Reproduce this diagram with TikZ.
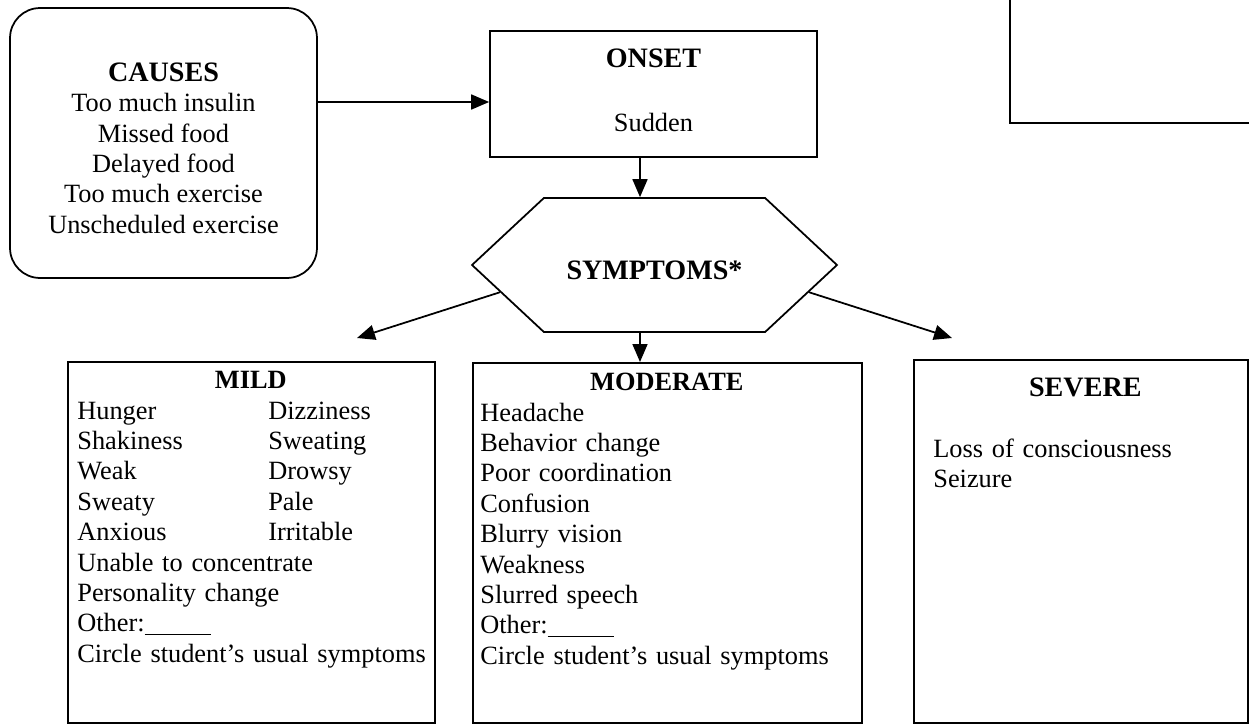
\documentclass[tikz,border=0pt]{standalone}
\usepackage{fontspec}
\setmainfont{Liberation Serif}
\usepackage{tikz}
\usetikzlibrary{shapes.symbols,arrows.meta,positioning}
\newcommand{\boxtitle}[1]{{\fontsize{16}{17.3}\selectfont\bfseries #1}}

\begin{document}
\begin{tikzpicture}[
    x=0.02cm,y=-0.02cm,
    box/.style={draw,line width=1pt,inner sep=0pt,font=\fontsize{15}{17.3}\selectfont},
    cause/.style={box,rounded corners=0.6cm,minimum width=6.14cm,minimum height=5.4cm,align=center},
    onsetbox/.style={box,minimum width=6.54cm,minimum height=2.52cm,align=center},
    hexa/.style={box,signal,signal to=west and east,signal pointer angle=86,minimum width=7.3cm,minimum height=2.68cm},
    level/.style={box,anchor=north west,minimum height=7.22cm},
    list/.style={anchor=north west,inner sep=0pt,align=left,font=\fontsize{15}{17.3}\selectfont},
    arrow/.style={-{Triangle[length=0.36cm,width=0.3cm]},line width=1pt}
  ]
  \useasboundingbox (0,0) rectangle (1249,724);
  \node[cause] (causes) at (163.5,143) {\rule{0pt}{0.58cm}\boxtitle{CAUSES}\\Too much insulin\\Missed food\\Delayed food\\Too much exercise\\Unscheduled exercise};
  \node[onsetbox] (onset) at (653.5,94) {\boxtitle{ONSET}\\[0.67cm]Sudden\rule[-0.14cm]{0pt}{0pt}};
  \node[hexa] (symp) at (654.5,265) {\rule{0pt}{0.57cm}\boxtitle{SYMPTOMS*}};
  \node[box,anchor=south west,minimum width=6cm,minimum height=4cm] (blank) at (1009,124) {};
  \node[level,minimum width=7.34cm] (mild) at (67,361) {};
  \node[level,minimum width=7.78cm,minimum height=7.2cm] (moderate) at (472,362) {};
  \node[level,minimum width=6.68cm,minimum height=7.26cm] (severe) at (913,359) {};
  \node[list,text width=7.2cm] (mildtxt) at ([shift={(10,6)}]mild.north west) {\strut\makebox[6.94cm]{\textbf{MILD}}\\
    \makebox[3.82cm][l]{Hunger}Dizziness\\
    \makebox[3.82cm][l]{Shakiness}Sweating\\
    \makebox[3.82cm][l]{Weak}Drowsy\\
    \makebox[3.82cm][l]{Sweaty}Pale\\
    \makebox[3.82cm][l]{Anxious}Irritable\\
    Unable to concentrate\\
    Personality change\\
    Other:\underline{\hspace{1.32cm}}\\
    Circle student's usual symptoms};
  \node[list,text width=7.6cm] (modtxt) at ([shift={(8,7)}]moderate.north west) {\strut\makebox[7.46cm]{\textbf{MODERATE}}\\
    Headache\\
    Behavior change\\
    Poor coordination\\
    Confusion\\
    Blurry vision\\
    Weakness\\
    Slurred speech\\
    Other:\underline{\hspace{1.32cm}}\\
    Circle student's usual symptoms};
  \node[list,text width=6.2cm] (sevtxt) at ([shift={(20,16)}]severe.north west) {\strut\makebox[6.08cm]{\boxtitle{SEVERE}}\\[0.61cm]
    Loss of consciousness\\
    Seizure};
  \coordinate (feed) at ([yshift=-0.16cm]onset.west);
  \coordinate (drop) at ([xshift=-0.27cm]onset.south);
  \coordinate (tomild) at (357,338);
  \coordinate (tosevere) at (952,338);
  \draw[arrow] (causes.east |- feed) -- (feed);
  \draw[arrow] (drop) -- (drop |- symp.north);
  \draw[arrow] (drop |- symp.south) -- (drop |- moderate.north);
  \draw[arrow] (symp.190) -- (tomild);
  \draw[arrow] (symp.-10) -- (tosevere);
\end{tikzpicture}
\end{document}
